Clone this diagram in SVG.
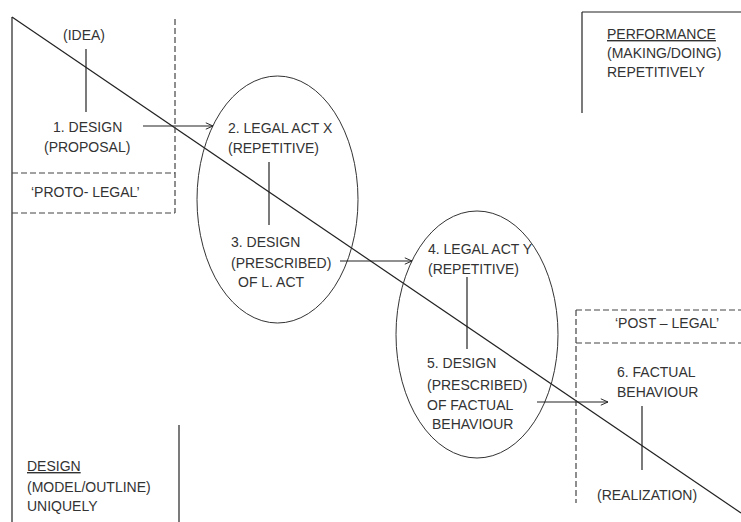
<svg xmlns="http://www.w3.org/2000/svg" width="741" height="522" viewBox="0 0 741 522">
<style>
text{font-family:"Liberation Sans",Arial,sans-serif;font-size:14px;fill:#333}
.ln{stroke:#222;stroke-width:1.2;fill:none}
.dash{stroke:#444;stroke-width:1.2;fill:none;stroke-dasharray:6 3}
.ell{stroke:#333;stroke-width:1;fill:none}
.u{text-decoration:underline}
</style>
<defs>
<marker id="arr" viewBox="0 0 10 10" refX="10" refY="5" markerWidth="8" markerHeight="8" markerUnits="userSpaceOnUse" orient="auto">
<polyline points="1,1 10,5 1,9" fill="none" stroke="#222" stroke-width="1.2"/>
</marker>
</defs>
<rect width="741" height="522" fill="#fff"/>
<g id="frame">
<line class="ln" x1="12" y1="17" x2="12" y2="522"/>
<line class="ln" x1="12" y1="17" x2="741" y2="513"/>
<line class="ln" x1="582" y1="12" x2="741" y2="12"/>
<line class="ln" x1="582" y1="12" x2="582" y2="113"/>
<line class="ln" x1="179" y1="425" x2="179" y2="522"/>
</g>
<g id="proto-legal">
<line class="dash" x1="175" y1="19" x2="175" y2="213"/>
<line class="dash" x1="12" y1="173" x2="175" y2="173"/>
<line class="dash" x1="12" y1="213" x2="175" y2="213"/>
<text x="31" y="197">‘PROTO- LEGAL’</text>
</g>
<g id="post-legal">
<line class="dash" x1="576" y1="310" x2="576" y2="503"/>
<line class="dash" x1="576" y1="310" x2="741" y2="310"/>
<line class="dash" x1="576" y1="343" x2="741" y2="343"/>
<text x="615" y="328">‘POST – LEGAL’</text>
</g>
<g id="idea">
<text x="63" y="40">(IDEA)</text>
</g>
<g id="design1">
<text x="53" y="132">1. DESIGN</text>
<text x="44" y="152">(PROPOSAL)</text>
</g>
<g id="ellipse1">
<ellipse class="ell" cx="277.5" cy="199.5" rx="80.5" ry="123.5"/>
</g>
<g id="legal-act-x">
<text x="228" y="133">2. LEGAL ACT X</text>
<text x="228" y="153">(REPETITIVE)</text>
</g>
<g id="design3">
<text x="231" y="247">3. DESIGN</text>
<text x="231" y="268">(PRESCRIBED)</text>
<text x="238" y="287">OF L. ACT</text>
</g>
<g id="ellipse2">
<ellipse class="ell" cx="477" cy="334.5" rx="81" ry="123.5"/>
</g>
<g id="legal-act-y">
<text x="428" y="254">4. LEGAL ACT Y</text>
<text x="428" y="274">(REPETITIVE)</text>
</g>
<g id="design5">
<text x="427" y="368">5. DESIGN</text>
<text x="427" y="390">(PRESCRIBED)</text>
<text x="427" y="410">OF FACTUAL</text>
<text x="432" y="429">BEHAVIOUR</text>
</g>
<g id="factual">
<text x="617" y="377">6. FACTUAL</text>
<text x="617" y="397">BEHAVIOUR</text>
</g>
<g id="realization">
<text x="597" y="500">(REALIZATION)</text>
</g>
<g id="design-label">
<text class="u" x="27" y="471">DESIGN</text>
<text x="27" y="492">(MODEL/OUTLINE)</text>
<text x="27" y="511">UNIQUELY</text>
</g>
<g id="performance-label">
<text class="u" x="607" y="39">PERFORMANCE</text>
<text x="607" y="58">(MAKING/DOING)</text>
<text x="607" y="77">REPETITIVELY</text>
</g>
<g id="connectors">
<line class="ln" x1="86" y1="49" x2="86" y2="112"/>
<line class="ln" x1="143" y1="126" x2="213" y2="126" marker-end="url(#arr)"/>
<line class="ln" x1="269" y1="162" x2="269" y2="225"/>
<line class="ln" x1="340" y1="261" x2="412" y2="261" marker-end="url(#arr)"/>
<line class="ln" x1="467" y1="277" x2="467" y2="349"/>
<line class="ln" x1="537" y1="402" x2="608" y2="402" marker-end="url(#arr)"/>
<line class="ln" x1="642" y1="406" x2="642" y2="470"/>
</g>
</svg>
